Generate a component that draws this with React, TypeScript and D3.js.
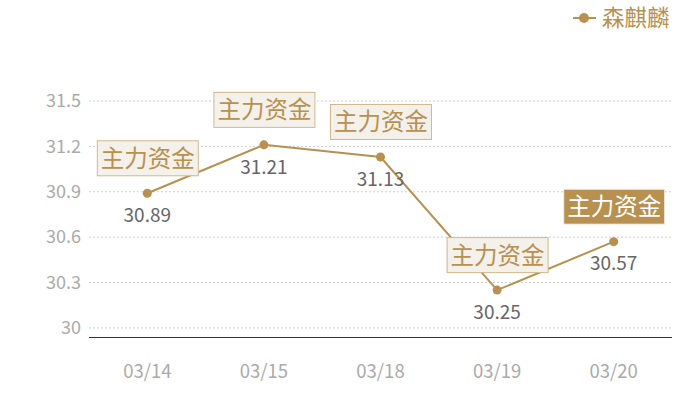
import React from "react";
import * as d3 from "d3";

const dates = ["03/14", "03/15", "03/18", "03/19", "03/20"];
const prices = [30.89, 31.21, 31.13, 30.25, 30.57];
const yTicks = [30, 30.3, 30.6, 30.9, 31.2, 31.5];
const tagText = "主力资金";
const tagFilled = [false, false, false, false, true];
const seriesName = "森麒麟";

const W = 700;
const H = 400;
const gold = "#b8904f";
const font = "'Noto Sans CJK SC', 'Noto Sans', sans-serif";

export default function App() {
    const x = d3.scaleBand<string>().domain(dates).range([89, 672]);
    const y = d3.scaleLinear().domain([29.94, 31.5]).range([337, 101]);
    const cx = (d: string) => (x(d) ?? 0) + x.bandwidth() / 2;

    const line = d3
        .line<number>()
        .x((_, i) => cx(dates[i]))
        .y((v) => y(v));

    return (
        <svg width={W} height={H} style={{ position: "absolute", left: 0, top: 0 }} fontFamily={font}>
            {/* grid */}
            {yTicks.map((t) => (
                <g key={t}>
                    <line x1={89} x2={672} y1={y(t)} y2={y(t)} stroke="#cfcfcf" strokeDasharray="2,2" />
                    <text x={81} y={y(t)} dy="0.35em" textAnchor="end" fontSize={18} fill="#aaaaaa">
                        {d3.format("")(t)}
                    </text>
                </g>
            ))}
            <line x1={89} x2={672} y1={337.5} y2={337.5} stroke="#333" strokeWidth={1.2} />
            {dates.map((d) => (
                <text key={d} x={cx(d)} y={372} dy="0.35em" textAnchor="middle" fontSize={18.5} fill="#aaaaaa">
                    {d}
                </text>
            ))}

            {/* series */}
            <path d={line(prices) ?? ""} fill="none" stroke={gold} strokeWidth={2} />
            {prices.map((v, i) => (
                <g key={i}>
                    <circle cx={cx(dates[i])} cy={y(v)} r={4.5} fill={gold} />
                    <text x={cx(dates[i])} y={y(v) + 22} dy="0.35em" textAnchor="middle" fontSize={19} fill="#666">
                        {v.toFixed(2)}
                    </text>
                </g>
            ))}

            {/* tags */}
            {prices.map((v, i) => {
                const bx = cx(dates[i]) - 50.5;
                const by = y(v) - 53;
                return (
                    <g key={"t" + i}>
                        <rect
                            x={bx + 0.5}
                            y={by + 0.5}
                            width={101}
                            height={35}
                            fill={tagFilled[i] ? gold : "#f4f0ea"}
                            stroke={tagFilled[i] ? "#f4f0ea" : "#d2b88e"}
                            strokeWidth={1}
                        />
                        <text
                            x={bx + 51}
                            y={by + 18}
                            dy="0.36em"
                            textAnchor="middle"
                            fontSize={23.5}
                            fill={tagFilled[i] ? "#ffffff" : gold}
                        >
                            {tagText}
                        </text>
                    </g>
                );
            })}

            {/* legend */}
            <line x1={573} x2={596} y1={18} y2={18} stroke={gold} strokeWidth={2} />
            <circle cx={584} cy={18} r={5} fill={gold} />
            <text x={602} y={18} dy="0.36em" fontSize={22.5} fill={gold}>
                {seriesName}
            </text>
        </svg>
    );
}
